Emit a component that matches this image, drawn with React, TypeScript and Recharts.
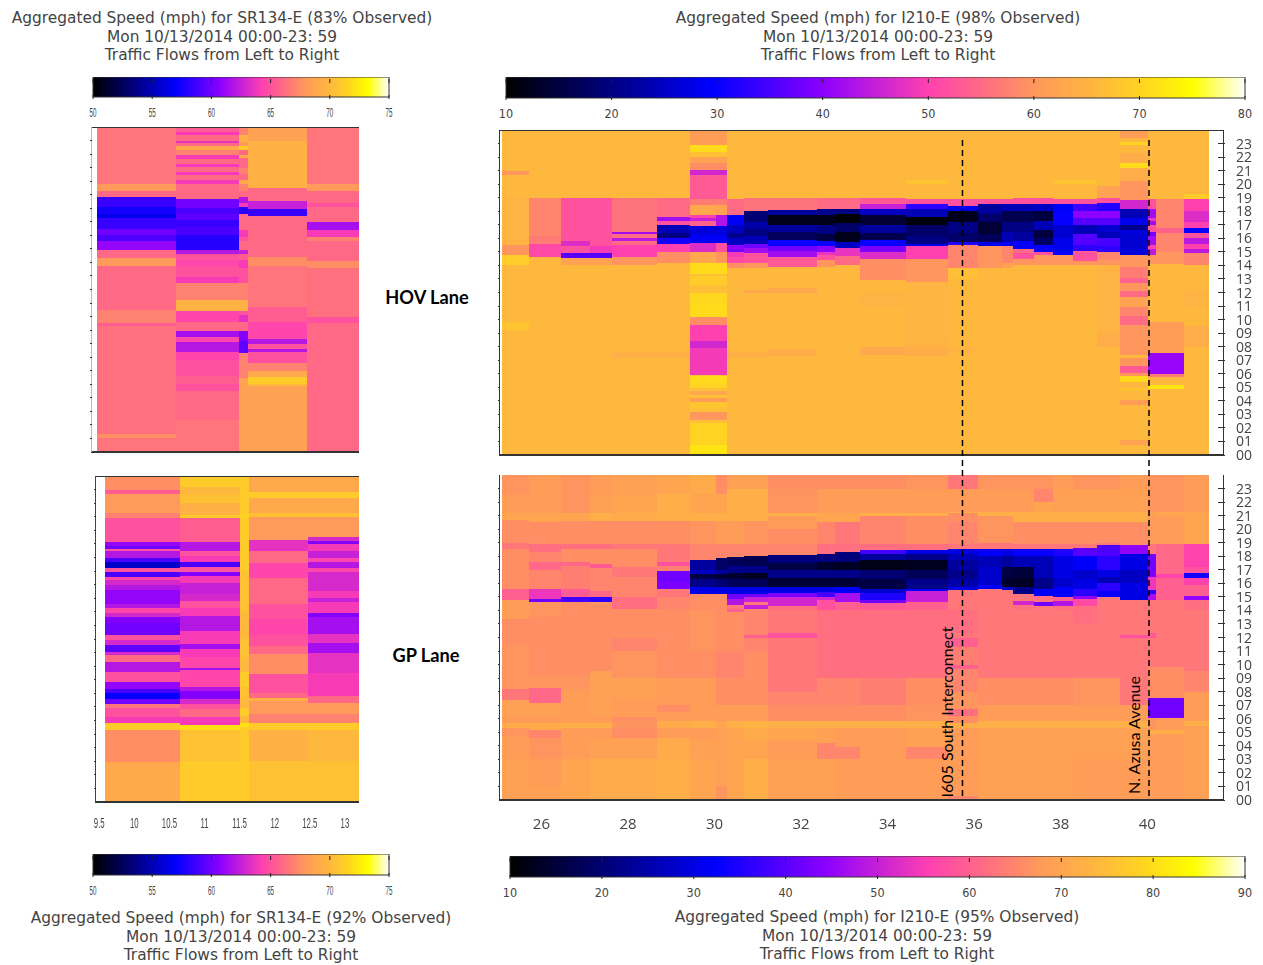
import { ComposedChart, ReferenceArea, ReferenceLine, XAxis, YAxis } from 'recharts'

type Run = [number, number] // [hour the band ends at, speed in mph]

const hourTicks = [0, 1, 2, 3, 4, 5, 6, 7, 8, 9, 10, 11, 12, 13, 14, 15, 16, 17, 18, 19, 20, 21, 22, 23]

const paletteStops = [0, 0.28, 0.43, 0.57, 0.65, 0.72, 0.8, 0.86, 0.93, 1]
const paletteColors = ['#000000', '#0000ff', '#8c00ff', '#ff40b0', '#ff6f80', '#ff9a5a', '#ffb83e', '#ffd420', '#ffff00', '#ffffff']

// SR134 postmile boundaries
const sr134HovEdges = [9.485, 10.6, 11.5, 11.62, 12.46, 13.2]
const sr134GpEdges = [9.58, 10.65, 11.51, 11.64, 12.47, 13.2]
const sr134Ticks = [9.5, 10, 10.5, 11, 11.5, 12, 12.5, 13]

const sr134Hov: Run[][] = [
  [[1, 66.5], [1.3, 67.5], [9.3, 66.3], [9.5, 65.5], [10.5, 67], [13.7, 66], [14.3, 68], [14.9, 66], [15.6, 61], [16, 59], [16.5, 60], [17.25, 58.5], [17.6, 56.5], [18.1, 57.5], [18.85, 58.5], [19.3, 66], [19.8, 68], [24, 66.5]],
  [[2.4, 66.5], [4.5, 66], [5, 65], [5.6, 65.5], [6.8, 65], [7.4, 64.5], [8.15, 62], [8.5, 64.5], [8.9, 61.5], [9.6, 66], [10.4, 64.5], [11.2, 69.5], [12.5, 67], [12.95, 64], [13.7, 65], [14.2, 64.5], [14.65, 65], [14.9, 62], [16, 58], [16.6, 59], [17.1, 58.5], [17.6, 59.5], [18.05, 59], [18.7, 60], [19.8, 66], [20.05, 64], [20.45, 66], [20.7, 64], [21.05, 66], [21.3, 64], [21.65, 66], [21.9, 64], [22.3, 67], [22.6, 69], [22.8, 66], [23, 63.5], [23.4, 66], [23.65, 64], [24, 65.5]],
  [[5.5, 68.5], [7.3, 67], [8.2, 59.5], [8.9, 60.5], [9.6, 66], [10.1, 63.5], [10.4, 65], [11.2, 69.5], [12.5, 67], [12.95, 65], [13.6, 65], [14.15, 64], [14.65, 65.5], [14.9, 62.5], [15.6, 66], [15.9, 65], [16.4, 64], [17.6, 66], [18.1, 58], [18.4, 64], [18.8, 62], [19.3, 66], [19.8, 67], [20.1, 69], [20.5, 66], [21, 67], [21.7, 66], [21.9, 69], [22.3, 66], [22.6, 71], [22.9, 68], [23.4, 69.5], [24, 67]],
  [[4.85, 68.5], [5.05, 70], [5.55, 71], [6, 69], [6.6, 67], [7.35, 65], [7.6, 62], [8, 65], [8.35, 62], [9.6, 64.5], [10.7, 65.5], [13.7, 66.5], [14.4, 67.5], [17.4, 66], [17.95, 58.5], [18.5, 62.5], [19.5, 66], [23, 69.5], [24, 68.5]],
  [[9.5, 66], [10, 65], [13.6, 66.3], [14.1, 67.5], [15.6, 66], [15.9, 67], [16.4, 64], [17, 61.5], [18.1, 66], [18.4, 65], [19.3, 66], [19.8, 68], [24, 66.5]],
]

const sr134Gp: Run[][] = [
  [[2.95, 69], [5.3, 67.5], [5.8, 71], [6.25, 64], [6.9, 65], [7.25, 66.5], [7.6, 60], [8, 57], [8.35, 59], [8.85, 61], [9.6, 65], [10.3, 62], [10.8, 66], [11.05, 63], [11.55, 59.5], [11.9, 63], [12.3, 65], [13.15, 60], [13.65, 60.5], [13.9, 63], [14.25, 64.5], [14.6, 62], [15.6, 61], [16, 62], [16.35, 63], [16.6, 64.5], [16.95, 59], [17.25, 65], [17.7, 55.5], [18, 59], [18.45, 62], [18.6, 65], [18.85, 60], [19.15, 61], [20.9, 65], [21.3, 67], [22.7, 68], [23, 65.5], [24, 67.5]],
  [[3, 71], [5.3, 70.5], [5.7, 72], [6.25, 64], [6.85, 66], [7.25, 65], [7.55, 63], [8.15, 60.5], [8.5, 62], [9.75, 64.5], [9.9, 61.5], [10.7, 64.5], [11.3, 64], [11.65, 61.5], [12.6, 64], [13.7, 62], [14.3, 64], [14.8, 65], [15.3, 63], [16.15, 62.5], [16.65, 64], [16.95, 60.5], [17.3, 65], [17.7, 59], [18.1, 64], [18.5, 65], [19.15, 62], [20.9, 65.5], [21.15, 71], [22, 69.5], [22.6, 70.5], [23.2, 70], [24, 71]],
  [[5.5, 71], [5.8, 72], [6.3, 70], [6.9, 71], [7.6, 70], [8.5, 70.5], [9.6, 71], [10.5, 70], [12, 70.5], [14, 70], [17, 70.5], [20.9, 71], [21.2, 71.5], [24, 71]],
  [[3, 70.5], [5.3, 69.5], [5.8, 71], [6.5, 67], [7.4, 68], [7.65, 69.5], [8, 66], [9.4, 65], [10.9, 67.5], [11.5, 66], [12.3, 65], [13.5, 64.5], [14.6, 65], [16.5, 66], [16.9, 64.5], [17.6, 64.5], [18.5, 66], [19.3, 63.5], [21, 68], [21.25, 70.5], [22.4, 69], [22.8, 71], [24, 69]],
  [[3, 70.5], [5.3, 70], [5.8, 71], [6.5, 67], [7.3, 68], [7.8, 66], [9.5, 64], [11, 63.5], [11.7, 61.5], [12.4, 63.5], [13.6, 61.5], [13.9, 60.5], [14.7, 64], [15, 62.5], [15.5, 64], [16.9, 63], [17.2, 64.5], [17.7, 62], [18, 64.5], [18.5, 62.5], [19, 64], [19.2, 60.5], [19.5, 63], [21, 68], [21.25, 70.5], [22.4, 69], [22.8, 71], [24, 69]],
]

// I210 postmile boundaries, shared by both lanes
const i210Edges = [25.1, 25.72, 26.46, 27.13, 27.64, 28.68, 29.44, 30.04, 30.3, 30.69, 31.24, 32.37, 32.79, 33.37, 34.43, 35.4, 36.09, 36.65, 36.9, 37.39, 37.82, 38.29, 38.84, 39.37, 40.02, 40.2, 40.85, 41.43]
const i210Ticks = [26, 28, 30, 32, 34, 36, 38, 40]

const i210Hov: Run[][] = [
  [[9.2, 66], [9.8, 68], [14, 66], [14.8, 69], [15.5, 60], [19, 65], [20.7, 66], [20.95, 60], [24, 66]],
  [[14.65, 66], [15.55, 51], [16.2, 57], [19, 58], [24, 66]],
  [[14, 66], [14.55, 62], [14.95, 36], [15.4, 52], [15.8, 47], [19, 52], [24, 66]],
  [[14, 66], [14.55, 62], [14.95, 36], [15.4, 49], [19, 52], [24, 66]],
  [[7.2, 66], [7.6, 64.5], [14, 66], [14.6, 60], [15.5, 50], [15.8, 55], [16, 44], [16.3, 55], [16.5, 42], [19, 56], [24, 66]],
  [[7.2, 66], [7.6, 64.5], [14.15, 66], [15, 59], [15.6, 50], [16.05, 31], [16.4, 20], [17, 24], [17.3, 52], [17.6, 42], [19, 55], [24, 66]],
  [[0.75, 72], [2.35, 70], [2.6, 67], [3.2, 60], [3.45, 67], [3.95, 68], [4.2, 61], [4.45, 67], [4.7, 63], [4.95, 67], [5.3, 70], [5.8, 71], [5.9, 68], [7.9, 49], [8.4, 46], [9.6, 50], [10.2, 59], [11.2, 71], [12, 70.5], [12.55, 67], [13.2, 69], [13.4, 67], [14.15, 71], [15, 63], [15.65, 47], [16.25, 29], [16.9, 27], [17.25, 54], [17.5, 45], [17.75, 50], [18.45, 63], [18.9, 57], [20.7, 53], [21.05, 46], [21.55, 59], [22, 62], [22.4, 67], [22.9, 71], [24, 61]],
  [[0.75, 72], [2.35, 70], [2.6, 67], [3.2, 60], [3.45, 67], [3.95, 68], [4.2, 61], [4.45, 67], [4.7, 63], [4.95, 67], [5.3, 70], [5.8, 71], [5.9, 68], [7.9, 49], [8.4, 46], [9.6, 50], [10.2, 59], [11.2, 71], [12, 70.5], [12.55, 67], [13.2, 69], [13.4, 67], [14.15, 71], [15, 60], [15.65, 52], [16.25, 29], [16.9, 27], [17.1, 43], [17.7, 43], [18.45, 62], [18.9, 57], [20.7, 53], [21.05, 46], [21.55, 59], [22, 62], [22.4, 67], [22.9, 71], [24, 61]],
  [[7.2, 66], [7.6, 64.5], [13.8, 66], [14.15, 59], [14.65, 51], [15, 49], [15.15, 38], [15.5, 40], [16, 25], [16.4, 21], [17, 25], [17.7, 29], [18.9, 55], [24, 66]],
  [[7.2, 66], [7.6, 64.5], [12, 66], [12.2, 63], [13.8, 66], [14.15, 60], [14.9, 52], [15.3, 42], [15.6, 38], [16.2, 24], [16.7, 20], [17.2, 23], [18, 19], [18.95, 56], [24, 66]],
  [[7.3, 66], [7.8, 64], [12, 66], [12.3, 63], [13.9, 66], [14.65, 53], [15.1, 42], [15.4, 38], [15.85, 30], [16.5, 17], [17, 22], [17.7, 12], [18.1, 22], [18.95, 56], [24, 66]],
  [[13.9, 66], [14.4, 60], [14.75, 52], [15, 48], [15.4, 40], [15.8, 30], [16.3, 15], [17, 20], [17.7, 12], [18.2, 21], [18.95, 55], [24, 66]],
  [[14, 66], [14.7, 55], [15.3, 48], [15.75, 25], [16.5, 12], [17.1, 18], [17.8, 10], [18.2, 20], [18.95, 55], [24, 66]],
  [[7.4, 66], [8, 63], [11, 66], [12, 65], [12.9, 66], [14.5, 59], [15, 47], [15.4, 39], [15.85, 30], [16.4, 16], [17, 22], [17.7, 14], [18.2, 25], [18.5, 45], [18.95, 53], [24, 66]],
  [[7.3, 66], [8, 64], [8.6, 65], [12.8, 65.5], [14.5, 60], [15.4, 50], [15.6, 28], [16.2, 20], [17, 18], [17.6, 11], [18.2, 24], [18.5, 33], [18.9, 52], [20, 66], [20.3, 68], [24, 66]],
  [[7.5, 66], [8, 65], [13, 66], [13.8, 67], [15.5, 58], [15.7, 32], [16.4, 18], [17.2, 20], [18, 12], [18.4, 28], [18.9, 52], [24, 66]],
  [[13.8, 66], [15.4, 60], [15.7, 28], [16.3, 17], [17.2, 14], [17.8, 18], [18.5, 22], [18.9, 52], [24, 66]],
  [[13.8, 66], [14.2, 62], [15.4, 58], [15.7, 29], [16.5, 24], [17.2, 20], [18, 16], [18.5, 24], [18.9, 52], [24, 66]],
  [[14, 66], [14.5, 60], [14.9, 52], [15.2, 55], [15.8, 30], [16.5, 22], [17.2, 20], [18, 16], [18.5, 24], [18.95, 52], [24, 66]],
  [[14, 66], [14.8, 60], [15, 52], [15.5, 30], [16, 18], [16.6, 15], [17.3, 24], [18, 15], [18.55, 25], [18.95, 52], [24, 66]],
  [[14, 66], [14.8, 60], [15, 30], [16, 28], [17, 26], [18, 30], [18.5, 29], [18.9, 52], [20, 66], [20.3, 68], [24, 66]],
  [[14, 66], [14.3, 60], [14.9, 52], [15.1, 53], [15.5, 33], [16.3, 36], [17, 24], [17.5, 36], [18, 40], [18.5, 34], [18.9, 52], [20, 66], [20.3, 68], [24, 66]],
  [[8, 66], [9, 64], [14, 65], [14.4, 60], [15, 58], [15.4, 33], [16, 35], [16.5, 24], [17, 26], [17.5, 36], [18, 40], [18.6, 32], [19, 52], [19.9, 62], [24, 66]],
  [[0.75, 66], [1.1, 62], [3.7, 66], [4.05, 61], [4.7, 66], [4.95, 68], [5.4, 66], [5.8, 71], [6.05, 60], [6.55, 53], [7.15, 60], [7.4, 66], [9.6, 60], [10.3, 55], [10.9, 58], [11.7, 62], [12.1, 55], [12.7, 60], [13.1, 54], [13.9, 57], [14.75, 60], [15.2, 27], [16.3, 26], [16.6, 27], [17, 21], [17.5, 28], [18.2, 24], [18.8, 46], [20.2, 60], [21.2, 64], [21.55, 71], [22.3, 64], [22.9, 66], [23.15, 70], [23.4, 66], [24, 61]],
  [[4.9, 66], [5.2, 72], [5.75, 66], [6, 57], [7.5, 41], [9.85, 61], [14.1, 66], [14.8, 60], [15.2, 44], [15.5, 50], [16.2, 42], [16.5, 38], [17, 52], [17.3, 42], [17.5, 48], [18.2, 42], [18.9, 52], [24, 66]],
  [[4.9, 66], [5.2, 72], [5.75, 66], [6, 57], [7.5, 41], [9.85, 61], [14.1, 66], [15, 60], [16.4, 58], [16.8, 54], [18.9, 58], [24, 66]],
  [[8, 66], [9.5, 64], [11, 66], [12.2, 65], [14, 66], [14.9, 58], [15.2, 44], [15.6, 50], [16, 44], [16.4, 52], [16.75, 30], [17.2, 50], [18, 47], [18.9, 50], [19.3, 69], [24, 66]],
]

const i210Gp: Run[][] = [
  [[1, 69], [3, 69], [4.7, 68], [5.3, 67], [5.7, 71], [6.2, 68], [7.4, 69], [8.2, 63], [9.2, 67], [11.5, 67], [13.4, 66], [14.8, 68], [15.6, 60], [17, 66], [18.5, 66], [19, 63], [20.7, 66], [21.2, 70], [22.5, 68], [24, 67]],
  [[1, 69], [3, 68], [4.6, 67], [5.2, 65], [5.7, 71], [6.2, 68], [7.2, 69], [8.3, 61], [9.2, 67], [11, 66], [13.5, 66], [14.6, 67], [14.85, 42], [15.6, 54], [17, 65], [17.6, 61], [18.3, 65], [18.9, 62], [20.5, 66], [21.2, 70], [22.3, 68], [24, 68]],
  [[3, 70], [4.6, 68], [5.3, 68], [5.7, 72], [6.2, 68], [8.2, 68], [9.2, 67], [12, 66], [14.4, 66], [14.65, 66], [15, 38], [15.6, 59], [17.3, 64], [17.6, 61], [18.5, 66], [18.9, 62], [20.6, 66], [21.2, 70], [22.5, 67], [24, 67]],
  [[3, 71], [4.6, 69], [5.3, 68], [5.7, 72], [6.2, 68], [8, 69], [9.5, 69], [12, 66], [14.4, 66], [14.6, 67], [15, 36], [15.4, 61], [17.1, 65], [17.4, 59], [18.5, 66], [18.9, 62], [20.6, 66], [21.2, 72], [22.5, 69], [24, 68]],
  [[3, 71], [4.6, 69], [5.3, 66], [5.8, 67], [6.1, 66], [7.5, 68], [9, 69], [11, 67], [12, 65], [14.1, 66], [15, 62], [15.9, 65], [16.5, 65], [17.2, 63], [18.5, 66], [18.9, 63], [20.6, 66], [21.2, 71], [22.5, 70], [24, 69]],
  [[3, 72], [4.6, 71], [5.3, 68], [5.8, 71], [6.5, 68], [7, 66], [9, 68], [12, 66], [14.1, 66], [15, 65], [15.6, 63], [16.1, 43], [16.9, 42], [17.3, 64], [17.6, 58], [18.9, 63], [20.6, 66], [21.2, 72], [22.6, 72], [24, 70]],
  [[3, 70], [4.5, 69], [5.3, 68], [5.8, 72], [7, 68], [9, 68], [11, 66], [14, 67], [15.2, 66], [15.7, 30], [16.3, 22], [16.7, 16], [17, 27], [17.75, 24], [18.9, 65], [20.6, 67], [21.2, 72], [22.6, 70], [24, 71]],
  [[1, 67], [3, 69], [5.3, 69], [5.8, 70], [7, 68], [9, 66], [11, 65], [14, 66], [15.2, 66], [15.7, 30], [16.3, 20], [16.7, 15], [17, 24], [17.85, 19], [18.9, 65], [20.6, 68], [21.2, 72], [22.6, 70], [24, 66]],
  [[3, 70], [5.3, 70], [5.8, 72], [7, 68], [9, 66], [11, 65], [13.9, 66], [14.1, 60], [14.4, 63], [14.85, 48], [15.2, 42], [15.7, 30], [16.3, 18], [16.8, 14], [17.3, 22], [17.95, 18], [18.9, 65], [20.6, 68], [21.2, 72], [23, 72], [24, 69]],
  [[3, 72], [4.4, 70], [5.3, 71], [5.8, 73], [7, 68], [9, 66], [11, 66], [12, 65], [12.2, 60], [14.1, 65], [14.4, 50], [14.6, 63], [15, 50], [15.2, 42], [15.7, 30], [16.3, 18], [16.8, 13], [17.3, 22], [18, 17], [18.9, 65], [20.6, 67], [21.2, 72], [23, 72], [24, 69]],
  [[3, 69], [4.4, 68], [5.3, 70], [5.8, 72], [7, 66], [8, 65], [12, 63], [12.3, 58], [14, 63], [14.35, 62], [15, 51], [15.3, 43], [15.75, 30], [16.4, 15], [17, 22], [17.5, 16], [18.1, 21], [18.9, 65], [20, 66], [21, 68], [21.2, 72], [23, 67], [24, 66]],
  [[3, 69], [3.9, 65], [4.2, 65], [5.3, 69], [5.8, 72], [7, 66], [9, 65], [12, 62], [14, 62], [14.8, 58], [15, 51], [15.35, 38], [15.75, 30], [16.4, 15], [17, 22], [17.6, 14], [18.2, 21], [18.9, 62], [20.5, 65], [21.2, 70], [23, 68], [24, 66]],
  [[3, 68], [3.9, 65], [5.3, 68], [5.8, 72], [7, 66], [9, 65], [14, 62], [14.6, 60], [15.3, 47], [15.7, 32], [16.4, 15], [17, 22], [17.6, 13], [18.3, 21], [18.9, 62], [20.5, 63], [21.2, 70], [23, 68], [24, 66]],
  [[3, 68], [5.3, 68], [5.8, 72], [7, 66], [9, 64], [14, 62], [14.55, 59], [14.8, 42], [15.3, 35], [15.6, 28], [16.3, 16], [17, 20], [17.7, 12], [18.2, 24], [18.45, 38], [18.9, 62], [21, 65], [21.2, 72], [23, 68], [24, 66]],
  [[3, 68], [3.9, 65], [5.3, 69], [5.8, 72], [7, 67], [9, 66], [14, 62], [14.65, 60], [15.4, 50], [15.6, 32], [16.3, 22], [17, 18], [17.7, 13], [18.2, 22], [18.45, 30], [18.9, 62], [21, 66], [21.2, 72], [23, 68], [24, 67]],
  [[0.3, 65], [3, 68], [5.3, 68], [5.7, 72], [6.2, 66], [6.7, 62], [8, 67], [9.7, 65], [10, 60], [11.3, 64], [12, 60], [12.3, 63], [14, 62], [15.5, 63], [15.7, 30], [16.3, 25], [17, 22], [17.7, 24], [18.2, 26], [18.5, 30], [18.9, 63], [20.5, 65], [21.2, 66], [21.3, 72], [23, 68], [24, 63]],
  [[3, 69], [5.3, 69], [5.8, 72], [7, 68], [9, 66], [14, 63], [15.6, 63], [15.9, 32], [16.5, 28], [17.2, 28], [18, 26], [18.5, 32], [18.95, 63], [21, 67], [21.3, 72], [23, 68], [24, 67]],
  [[3, 69], [5.3, 69], [5.8, 72], [7, 68], [9, 66], [14, 63], [15.5, 63], [15.7, 28], [16.4, 14], [17.2, 16], [18, 24], [18.5, 30], [18.95, 63], [21, 67], [21.3, 72], [23, 68], [24, 67]],
  [[3, 69], [5.3, 69], [5.8, 72], [7, 68], [9, 66], [14, 63], [14.4, 62], [14.7, 51], [15.2, 63], [15.7, 22], [16.4, 13], [17.2, 15], [18, 26], [18.5, 33], [18.9, 63], [20.5, 66], [21.3, 72], [23, 68], [24, 67]],
  [[3, 69], [5.3, 69], [5.8, 72], [7, 68], [9, 66], [14, 63], [14.35, 63], [14.65, 42], [15.1, 62], [15.6, 32], [16.4, 22], [17.2, 26], [18, 26], [18.5, 33], [18.9, 63], [20.5, 66], [21.3, 72], [22, 70], [23, 65], [24, 67]],
  [[3, 69], [5.3, 69], [5.8, 72], [7, 68], [9, 66], [14, 63], [14.3, 62], [14.7, 48], [15, 60], [15.7, 32], [16.4, 28], [17.2, 30], [18, 30], [18.5, 35], [18.9, 63], [20.5, 66], [21.3, 72], [23, 69], [24, 68]],
  [[3, 68], [5.3, 69], [5.8, 72], [7, 68], [9, 67], [13, 63], [14.3, 62], [14.85, 57], [15.1, 45], [15.6, 36], [16.3, 30], [17, 28], [18, 32], [18.6, 40], [18.9, 63], [20.5, 66], [21.3, 72], [23, 69], [24, 67]],
  [[3, 68], [5.3, 69], [5.8, 72], [7, 68], [9, 67], [14, 63], [15, 63], [15.4, 33], [16, 36], [16.5, 26], [17, 30], [18, 36], [18.8, 39], [19, 63], [20.5, 66], [21.3, 72], [23, 69], [24, 67]],
  [[3, 68], [5.3, 69], [5.8, 72], [7, 68], [12, 63], [12.2, 58], [14.75, 63], [16, 30], [17, 27], [18.2, 30], [18.85, 45], [20.5, 66], [21.3, 72], [23, 69], [24, 68]],
  [[4.9, 68], [5.2, 72], [6.05, 67], [7.5, 42], [9.8, 66], [12, 63], [12.3, 59], [14.75, 63], [15.2, 47], [15.5, 36], [16.5, 54], [17, 43], [18.2, 42], [18.9, 63], [21.2, 68], [21.3, 70], [24, 67]],
  [[4.9, 68], [5.2, 72], [6.05, 68], [7.5, 42], [9.8, 66], [14.8, 63], [16.4, 60], [16.7, 56], [18.9, 61], [21, 68], [21.3, 70], [24, 67]],
  [[3, 69], [5.5, 69], [5.8, 72], [8, 68], [9.5, 65], [14, 63], [14.8, 62], [15.1, 45], [15.9, 60], [16.4, 56], [16.75, 34], [17.2, 58], [18.9, 56], [21.3, 70], [24, 68]],
]

const colorbarWide1 = [10, 20, 30, 40, 50, 60, 70, 80]
const colorbarWide2 = [10, 20, 30, 40, 50, 60, 70, 80, 90]
const colorbarNarrow = [50, 55, 60, 65, 70, 75]

const interchanges = [35.73, 40.04]

const textColor = '#444'

function hexToRgb(hex: string) {
  return [1, 3, 5].map((i) => parseInt(hex.slice(i, i + 2), 16))
}

function speedColor(speed: number, domain: number[]) {
  const t = (speed - domain[0]) / (domain[1] - domain[0])
  let i = 0
  while (i < paletteStops.length - 2 && t > paletteStops[i + 1]) i++
  const f = (t - paletteStops[i]) / (paletteStops[i + 1] - paletteStops[i])
  const a = hexToRgb(paletteColors[i])
  const b = hexToRgb(paletteColors[i + 1])
  const c = a.map((v, k) => Math.round(v + (b[k] - v) * Math.min(1, Math.max(0, f))))
  return `rgb(${c[0]},${c[1]},${c[2]})`
}

function TitleBlock({ center, top, road, pct }: { center: number; top: number; road: string; pct: number }) {
  const lines = [`Aggregated Speed (mph) for ${road} (${pct}% Observed)`, 'Mon 10/13/2014 00:00-23: 59', 'Traffic Flows from Left to Right']
  return (
    <div style={{ position: 'absolute', left: center - 300, top, width: 600, textAlign: 'center', font: '15.4px/18.5px "DejaVu Sans"', color: textColor }}>
      {lines.map((l) => (
        <div key={l}>{l}</div>
      ))}
    </div>
  )
}

function Colorbar({ id, left, top, width, height, ticks, narrow }: { id: string; left: number; top: number; width: number; height: number; ticks: number[]; narrow?: boolean }) {
  const pad = 15
  return (
    <div style={{ position: 'absolute', left: left - pad, top }}>
      <ComposedChart width={width + pad * 2} height={height + 30} margin={{ top: 0, left: pad, right: pad, bottom: 0 }}>
        <defs>
          <linearGradient id={id} x1="0" y1="0" x2="1" y2="0">
            {paletteStops.map((s, i) => (
              <stop key={s} offset={s} stopColor={paletteColors[i]} />
            ))}
          </linearGradient>
        </defs>
        <ReferenceArea x1={ticks[0]} x2={ticks[ticks.length - 1]} y1={0} y2={1} fill={`url(#${id})`} fillOpacity={1} stroke="#333" strokeWidth={1} />
        <XAxis
          type="number"
          dataKey="v"
          domain={[ticks[0], ticks[ticks.length - 1]]}
          ticks={ticks}
          interval={0}
          allowDataOverflow
          height={30}
          axisLine={false}
          tickLine={false}
          tickSize={0}
          tick={(p: any) => (
            <g>
              <line x1={p.x} x2={p.x} y1={p.y - height} y2={p.y - height + 4} stroke="#222" />
              <line x1={p.x} x2={p.x} y1={p.y - 4} y2={p.y} stroke="#222" />
              {narrow ? (
                <text transform={`translate(${p.x},${p.y + 18}) scale(0.48,1)`} textAnchor="middle" fontSize={13} fontFamily="Liberation Sans" fill={textColor}>
                  {p.payload.value}
                </text>
              ) : (
                <text x={p.x} y={p.y + 18} textAnchor="middle" fontSize={12.5} fontFamily="DejaVu Sans Condensed" fill={textColor}>
                  {p.payload.value}
                </text>
              )}
            </g>
          )}
        />
        <YAxis hide type="number" domain={[0, 1]} allowDataOverflow />
      </ComposedChart>
    </div>
  )
}

function HeatPanel({
  left, top, width, height, xDomain, edges, columns, speedDomain, xTicks, narrow, rightAxis, topLine, leftColor,
}: {
  left: number; top: number; width: number; height: number; xDomain: number[]; edges: number[]; columns: Run[][]; speedDomain: number[]; xTicks?: number[]; narrow?: boolean; rightAxis?: boolean; topLine?: boolean; leftColor: string
}) {
  const rightW = rightAxis ? 40 : 0
  const bottomH = xTicks ? 40 : 2
  const extra = 8 // room for the 00 label below the axis
  return (
    <div style={{ position: 'absolute', left: left - 1, top, shapeRendering: 'crispEdges', filter: 'blur(0.5px)' }}>
      <ComposedChart width={width + 1 + rightW} height={height + bottomH + extra} margin={{ top: 0, left: 0, right: 0, bottom: extra }}>
        {columns.map((runs, c) =>
          runs.map(([to, speed], r) => (
            <ReferenceArea
              key={`${c}-${r}`}
              x1={edges[c]}
              x2={edges[c + 1]}
              y1={r === 0 ? 0 : runs[r - 1][0]}
              y2={to}
              fill={speedColor(speed, speedDomain)}
              fillOpacity={1}
              stroke="none"
            />
          )),
        )}
        <XAxis
          type="number"
          dataKey="x"
          domain={xDomain}
          ticks={xTicks ?? []}
          interval={0}
          allowDataOverflow
          height={bottomH}
          stroke="#333"
          strokeWidth={2}
          tickLine={false}
          tickSize={0}
          tick={(p: any) =>
            narrow ? (
              <text transform={`translate(${p.x},${p.y + 24}) scale(0.52,1)`} textAnchor="middle" fontSize={15} fontFamily="Liberation Sans" fill={textColor}>
                {p.payload.value}
              </text>
            ) : (
              <text x={p.x} y={p.y + 27} textAnchor="middle" fontSize={15} fontFamily="Open Sans" fill={textColor}>
                {p.payload.value}
              </text>
            )
          }
        />
        <YAxis
          type="number"
          width={1}
          domain={[0, 24]}
          ticks={hourTicks.slice(1)}
          interval={0}
          allowDataOverflow
          stroke={leftColor}
          tickLine={false}
          tickSize={0}
          tick={(p: any) => <line x1={p.x} x2={p.x + 3} y1={p.y} y2={p.y} stroke="#333" />}
        />
        {rightAxis && (
          <YAxis
            yAxisId="hours"
            orientation="right"
            type="number"
            width={rightW}
            domain={[0, 24]}
            ticks={hourTicks}
            interval={0}
            allowDataOverflow
            stroke="#333"
            tickLine={false}
            tickSize={0}
            tick={(p: any) => (
              <g>
                <line x1={p.x - 7} x2={p.x} y1={p.y} y2={p.y} stroke="#333" />
                <text x={p.x + 11} y={p.y + 5} fontSize={14} fontFamily="Open Sans" fill={textColor}>
                  {String(p.payload.value).padStart(2, '0')}
                </text>
              </g>
            )}
          />
        )}
        {topLine && <ReferenceLine y={24} stroke="#333" strokeWidth={2} />}
      </ComposedChart>
    </div>
  )
}

function RotatedLabel({ text, x, y }: { text: string; x: number; y: number }) {
  return (
    <div style={{ position: 'absolute', left: x - 100, top: y - 10, width: 200, height: 20, textAlign: 'center', transform: 'rotate(-90deg)', font: '16px/20px Lato', color: '#000' }}>
      {text}
    </div>
  )
}

function LaneLabel({ text, x, y }: { text: string; x: number; y: number }) {
  return (
    <div style={{ position: 'absolute', left: x - 60, top: y - 12, width: 120, textAlign: 'center', font: 'bold 18.2px/24px Lato', color: '#000' }}>
      {text}
    </div>
  )
}

export default function App() {
  return (
    <div style={{ position: 'absolute', left: 0, top: 0, width: 1263, height: 965, background: '#fff', overflow: 'hidden' }}>
      <TitleBlock center={222} top={9} road="SR134-E" pct={83} />
      <TitleBlock center={878} top={9} road="I210-E" pct={98} />
      <TitleBlock center={241} top={909} road="SR134-E" pct={92} />
      <TitleBlock center={877} top={908} road="I210-E" pct={95} />

      <Colorbar id="barTL" left={93} top={77} width={296} height={20} ticks={colorbarNarrow} narrow />
      <Colorbar id="barTR" left={506} top={77} width={739} height={21} ticks={colorbarWide1} />
      <Colorbar id="barBL" left={93} top={854} width={296} height={21} ticks={colorbarNarrow} narrow />
      <Colorbar id="barBR" left={510} top={856} width={735} height={21} ticks={colorbarWide2} />

      <HeatPanel left={91} top={127} width={268} height={325} xDomain={[9.4, 13.2]} edges={sr134HovEdges} columns={sr134Hov} speedDomain={[50, 75]} topLine leftColor="#bbb" />
      <HeatPanel left={95} top={476} width={264} height={326} xDomain={[9.44, 13.2]} edges={sr134GpEdges} columns={sr134Gp} speedDomain={[50, 75]} xTicks={sr134Ticks} narrow topLine leftColor="#444" />
      <HeatPanel left={499} top={130} width={724} height={325} xDomain={[25.02, 41.75]} edges={i210Edges} columns={i210Hov} speedDomain={[10, 80]} rightAxis topLine leftColor="#333" />
      <HeatPanel left={499} top={475} width={724} height={325} xDomain={[25.02, 41.75]} edges={i210Edges} columns={i210Gp} speedDomain={[10, 90]} xTicks={i210Ticks} rightAxis leftColor="#333" />

      <div style={{ position: 'absolute', left: 499, top: 136 }}>
        <ComposedChart width={724} height={660} margin={{ top: 0, left: 0, right: 0, bottom: 0 }}>
          <XAxis hide type="number" dataKey="x" domain={[25.02, 41.75]} allowDataOverflow />
          <YAxis hide type="number" domain={[0, 1]} allowDataOverflow />
          {interchanges.map((x) => (
            <ReferenceLine key={x} x={x} stroke="#000" strokeWidth={1.5} strokeDasharray="6 4" />
          ))}
        </ComposedChart>
      </div>

      <RotatedLabel text="I605 South Interconnect" x={947} y={712} />
      <RotatedLabel text="N. Azusa Avenue" x={1134} y={735} />
      <LaneLabel text="HOV Lane" x={427} y={297} />
      <LaneLabel text="GP Lane" x={426} y={655} />
    </div>
  )
}
